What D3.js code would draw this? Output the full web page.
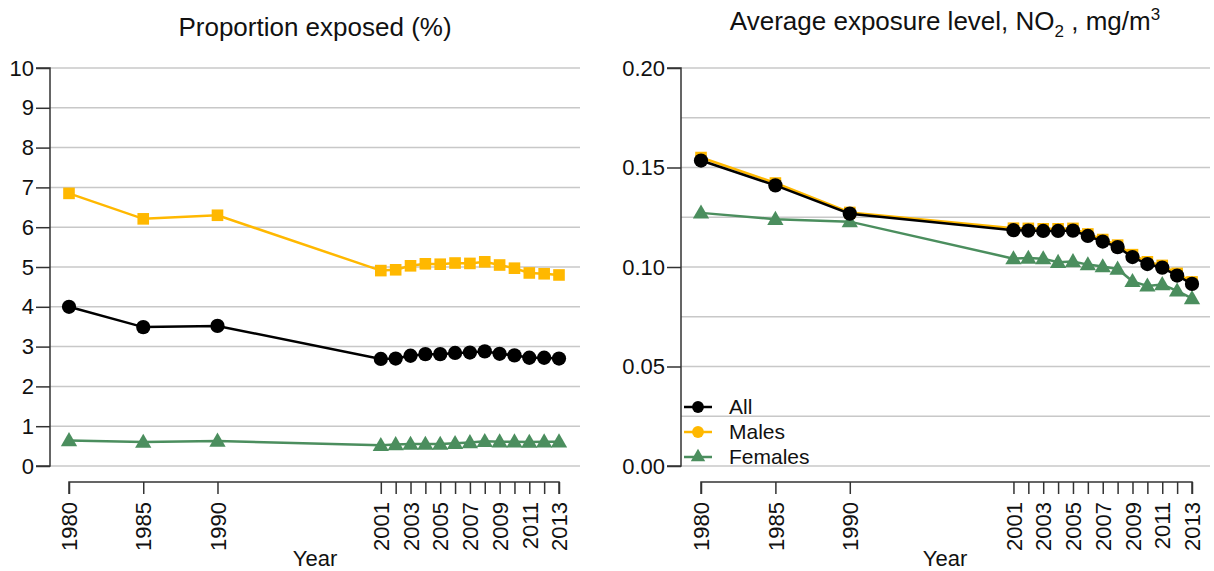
<!DOCTYPE html>
<html>
<head>
<meta charset="utf-8">
<script src="https://cdn.jsdelivr.net/npm/d3@7"></script>
<style>
  body { margin: 0; background: #fff; }
  svg { display: block; font-family: "Liberation Sans", Arial, sans-serif; }
</style>
</head>
<body>
<svg id="chart" width="1214" height="571"></svg>
<script>
// ---- data ----
const years = [1980, 1985, 1990, 2001, 2002, 2003, 2004, 2005, 2006, 2007, 2008, 2009, 2010, 2011, 2012, 2013];
const yearLabels = [1980, 1985, 1990, 2001, 2003, 2005, 2007, 2009, 2011, 2013];

const propAll     = [4.00, 3.49, 3.52, 2.69, 2.70, 2.77, 2.81, 2.81, 2.84, 2.85, 2.88, 2.82, 2.78, 2.72, 2.72, 2.70];
const propMales   = [6.85, 6.21, 6.30, 4.91, 4.93, 5.03, 5.08, 5.07, 5.10, 5.09, 5.13, 5.05, 4.97, 4.85, 4.83, 4.80];
const propFemales = [0.64, 0.60, 0.63, 0.52, 0.54, 0.55, 0.55, 0.55, 0.57, 0.59, 0.62, 0.61, 0.61, 0.60, 0.61, 0.61];

const expAll     = [0.1535, 0.1410, 0.1268, 0.1185, 0.1183, 0.1181, 0.1181, 0.1183, 0.1156, 0.1128, 0.1100, 0.1050, 0.1015, 0.0997, 0.0957, 0.0915];
const expMales   = [0.1550, 0.1422, 0.1274, 0.1195, 0.1194, 0.1192, 0.1192, 0.1194, 0.1166, 0.1138, 0.1110, 0.1062, 0.1026, 0.1008, 0.0968, 0.0925];
const expFemales = [0.1272, 0.1240, 0.1228, 0.1042, 0.1045, 0.1042, 0.1024, 0.1028, 0.1012, 0.1002, 0.0990, 0.0928, 0.0905, 0.0912, 0.0880, 0.0842];

const propTicks = [0, 1, 2, 3, 4, 5, 6, 7, 8, 9, 10];
const expTicks = [0.00, 0.05, 0.10, 0.15, 0.20];
const expGrid = [0, 0.025, 0.05, 0.075, 0.10, 0.125, 0.15, 0.175, 0.20];

const seriesNames = ["All", "Males", "Females"];
const colors = { All: "#000000", Males: "#FFB800", Females: "#4B8E5E" };

// ---- drawing ----
const svg = d3.select("#chart");
const yTop = 68, yBot = 466;
const TICK_FS = 22, TITLE_FS = 26, LEG_FS = 21;

function panel(opts) {
  const g = svg.append("g");
  const x = d3.scaleLinear().domain([1980, 2013]).range([opts.x0, opts.x1]);
  const y = d3.scaleLinear().domain(opts.yDomain).range([yBot, yTop]);

  // gridlines
  g.append("g").selectAll("line").data(opts.grid).join("line")
    .attr("x1", opts.axisX).attr("x2", opts.gridEnd)
    .attr("y1", d => y(d)).attr("y2", d => y(d))
    .attr("stroke", "#c8c8c8").attr("stroke-width", 1.5);

  // y axis
  const yAxis = d3.axisLeft(y).tickValues(opts.yTicks).tickSize(14).tickPadding(2)
    .tickFormat(opts.yFormat);
  const ya = g.append("g").attr("transform", `translate(${opts.axisX},0)`).call(yAxis);
  ya.attr("font-size", TICK_FS).attr("font-family", "Liberation Sans, Arial, sans-serif");
  ya.select(".domain").attr("d", `M-14,${yTop}H0V${yBot}H-14`).attr("stroke", "#333").attr("stroke-width", 1.5);
  ya.selectAll(".tick line").attr("stroke", "#333").attr("stroke-width", 1.5);
  ya.selectAll(".tick text").attr("fill", "#111");

  // x axis
  const xAxis = d3.axisBottom(x).tickValues(years).tickSize(12).tickPadding(8)
    .tickFormat(d => yearLabels.includes(d) ? d : "");
  const xa = g.append("g").attr("transform", `translate(0,482)`).call(xAxis);
  xa.attr("font-size", TICK_FS).attr("font-family", "Liberation Sans, Arial, sans-serif");
  xa.select(".domain").attr("d", `M${x(1980)},12V0H${x(2013)}V12`).attr("stroke", "#333").attr("stroke-width", 1.5);
  xa.selectAll(".tick line").attr("stroke", "#333").attr("stroke-width", 1.5);
  xa.selectAll(".tick text")
    .attr("fill", "#111")
    .attr("transform", "rotate(-90)")
    .attr("text-anchor", "end")
    .attr("dy", "0.35em")
    .attr("x", -20).attr("y", 0);

  // x title
  g.append("text").attr("x", opts.yearX).attr("y", 566)
    .attr("text-anchor", "middle").attr("font-size", TICK_FS).attr("fill", "#111").text("Year");

  // series
  const line = d3.line().x((d, i) => x(years[i])).y(d => y(d));
  const order = ["Females", "Males", "All"];
  order.forEach(name => {
    const vals = opts.data[name];
    g.append("path").datum(vals).attr("d", line)
      .attr("fill", "none").attr("stroke", colors[name]).attr("stroke-width", 2.5);
    const shape = opts.shapes[name];
    const sym = d3.symbol().type(shape === "square" ? d3.symbolSquare : shape === "triangle" ? d3.symbolTriangle : d3.symbolCircle)
      .size(shape === "square" ? 135 : shape === "triangle" ? 115 : 160);
    g.append("g").selectAll("path").data(vals).join("path")
      .attr("d", sym)
      .attr("transform", (d, i) => `translate(${x(years[i])},${y(d) + (shape === "triangle" ? 1 : 0)})`)
      .attr("fill", colors[name]);
  });
  return { g, x, y };
}

const left = panel({
  x0: 69, x1: 559, axisX: 50, gridEnd: 580,
  yDomain: [0, 10], yTicks: propTicks, grid: propTicks, yFormat: d3.format("d"),
  yearX: 315,
  data: { All: propAll, Males: propMales, Females: propFemales },
  shapes: { All: "circle", Males: "square", Females: "triangle" }
});

const right = panel({
  x0: 701, x1: 1192, axisX: 681, gridEnd: 1210,
  yDomain: [0, 0.20], yTicks: expTicks, grid: expGrid, yFormat: d3.format(".2f"),
  yearX: 945,
  data: { All: expAll, Males: expMales, Females: expFemales },
  shapes: { All: "circle", Males: "square", Females: "triangle" }
});

// titles
svg.append("text").attr("x", 315).attr("y", 36).attr("text-anchor", "middle")
  .attr("font-size", TITLE_FS).attr("fill", "#111").text("Proportion exposed (%)");

const t2 = svg.append("text").attr("x", 945).attr("y", 30).attr("text-anchor", "middle")
  .attr("font-size", TITLE_FS).attr("fill", "#111");
t2.append("tspan").text("Average exposure level, NO");
t2.append("tspan").attr("font-size", 17).attr("dy", 7).text("2");
t2.append("tspan").attr("dy", -7).text(" , mg/m");
t2.append("tspan").attr("font-size", 17).attr("dy", -10).text("3");

// legend
const legendShapes = { All: d3.symbolCircle, Males: d3.symbolCircle, Females: d3.symbolTriangle };
const lg = svg.append("g");
seriesNames.forEach((name, i) => {
  const cy = 407 + i * 25;
  lg.append("line").attr("x1", 684).attr("x2", 712).attr("y1", cy).attr("y2", cy)
    .attr("stroke", colors[name]).attr("stroke-width", 2.5);
  lg.append("path").attr("d", d3.symbol().type(legendShapes[name]).size(name === "Females" ? 90 : 110))
    .attr("transform", `translate(698,${cy})`).attr("fill", colors[name]);
  lg.append("text").attr("x", 729).attr("y", cy).attr("dy", "0.35em")
    .attr("font-size", LEG_FS).attr("fill", "#111").text(name);
});
</script>
</body>
</html>
